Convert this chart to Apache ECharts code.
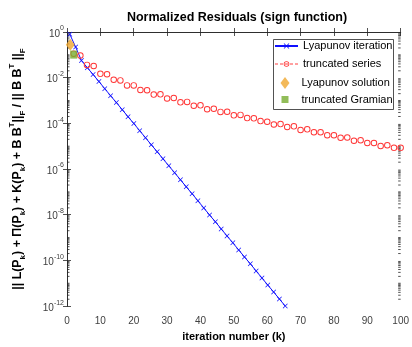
<!DOCTYPE html>
<html>
<head>
<meta charset="utf-8">
<script src="https://cdn.jsdelivr.net/npm/echarts@6/dist/echarts.min.js"></script>
<style>
html,body{margin:0;padding:0;background:#fff;}
#chart{width:412px;height:347px;}
</style>
</head>
<body>
<div id="chart"></div>
<script>
// ---- data (y values are log10 of the normalized residual) ----
const lyapIterK = [0.84, 2.59, 4.33, 6.08, 7.82, 9.57, 11.31, 13.06, 14.80, 16.55, 18.29, 20.04, 21.78, 23.53, 25.27, 27.02, 28.76, 30.51, 32.25, 34.00, 35.74, 37.49, 39.23, 40.98, 42.72, 44.47, 46.21, 47.96, 49.70, 51.45, 53.19, 54.94, 56.68, 58.43, 60.17, 61.92, 63.66, 65.41];
const lyapIterLog = [-0.10, -0.66, -1.25, -1.56, -1.86, -2.17, -2.48, -2.79, -3.09, -3.40, -3.71, -4.01, -4.32, -4.63, -4.94, -5.24, -5.55, -5.86, -6.16, -6.47, -6.78, -7.08, -7.39, -7.70, -8.01, -8.31, -8.62, -8.93, -9.23, -9.54, -9.85, -10.15, -10.46, -10.77, -11.08, -11.38, -11.69, -12.00];

const truncK = [2, 4, 6, 8, 10, 12, 14, 16, 18, 20, 22, 24, 26, 28, 30, 32, 34, 36, 38, 40, 42, 44, 46, 48, 50, 52, 54, 56, 58, 60, 62, 64, 66, 68, 70, 72, 74, 76, 78, 80, 82, 84, 86, 88, 90, 92, 94, 96, 98, 100];
const truncLog = [-0.95, -1.03, -1.44, -1.49, -1.83, -1.85, -2.09, -2.12, -2.34, -2.34, -2.54, -2.55, -2.74, -2.73, -2.91, -2.89, -3.08, -3.06, -3.23, -3.21, -3.38, -3.36, -3.50, -3.49, -3.65, -3.63, -3.77, -3.78, -3.90, -3.93, -4.05, -4.03, -4.16, -4.13, -4.29, -4.26, -4.39, -4.39, -4.52, -4.52, -4.63, -4.62, -4.76, -4.74, -4.86, -4.86, -4.99, -4.96, -5.07, -5.07];

const lyapSolK = [1];
const lyapSolLog = [-0.56];
const gramK = [2];
const gramLog = [-0.99];

const xTicks = [0, 10, 20, 30, 40, 50, 60, 70, 80, 90, 100];
const yTickExps = [0, -2, -4, -6, -8, -10, -12];

const seriesNames = ['Lyapunov iteration', 'truncated series', 'Lyapunov solution', 'truncated Gramian'];
const titleText = 'Normalized Residuals (sign function)';
const xLabel = 'iteration number (k)';

// ---- build ----
const zip = (a, b) => a.map((v, i) => [v, b[i]]);
const AX = '#262626';
const FONT = 'Liberation Sans, Arial, sans-serif';

// minor log ticks (axis decoration)
const minorTicks = [];
for (let e = -12; e < 0; e++) {
  for (let m = 1; m <= 9; m++) {
    if (m === 1 && yTickExps.indexOf(e) >= 0) continue;
    minorTicks.push([0, e + Math.log10(m)]);
  }
}

const xMarker = 'path://M0,1L1,0L5,4L9,0L10,1L6,5L10,9L9,10L5,6L1,10L0,9L4,5Z';
const ringMarker = 'path://M0,3A3,3 0 1,0 6,3A3,3 0 1,0 0,3Z M0.85,3A2.15,2.15 0 1,1 5.15,3A2.15,2.15 0 1,1 0.85,3Z';
const diamondPath = 'path://M4.5,0L9,6L4.5,12L0,6Z';
const squareIcon = 'path://M0,0L0.01,0L0.01,0.01ZM12,12L11.99,12L11.99,11.99ZM2.5,2.5L9.5,2.5L9.5,9.5L2.5,9.5Z';

const legendText = {fontFamily: FONT, fontSize: 11, color: '#000'};

const chart = echarts.init(document.getElementById('chart'), null, {renderer: 'canvas'});
chart.setOption({
  animation: false,
  backgroundColor: '#fff',
  title: {
    text: titleText, left: 232, top: 6, textAlign: 'center',
    textStyle: {fontFamily: FONT, fontSize: 12.5, fontWeight: 'bold', color: '#000'}
  },
  grid: {left: 62, right: 10, top: 32, bottom: 34},
  graphic: [{
    type: 'rect', z: 55, silent: true,
    shape: {x: 273.5, y: 39.5, width: 120, height: 70},
    style: {fill: '#fff', stroke: AX, lineWidth: 0.8}
  }],
  legend: [{
    orient: 'vertical', left: 274, top: 40.5, z: 60,
    itemWidth: 23, itemHeight: 7, itemGap: 7, padding: 0,
    textStyle: legendText,
    data: [
      {name: seriesNames[0]},
      {name: seriesNames[1], lineStyle: {opacity: 1, type: [3, 2], width: 1, color: '#ff4040'}}
    ]
  }, {
    orient: 'vertical', left: 279, top: 77, z: 60,
    itemWidth: 23, itemHeight: 12, itemGap: 4.5, padding: 0,
    textStyle: legendText,
    data: [
      {name: seriesNames[2], icon: diamondPath},
      {name: seriesNames[3], icon: squareIcon}
    ]
  }],
  xAxis: [{
    type: 'value', min: 0, max: 100, interval: 10, position: 'bottom',
    name: xLabel, nameLocation: 'middle', nameGap: 23,
    nameTextStyle: {fontFamily: FONT, fontSize: 11, fontWeight: 'bold', color: '#000'},
    axisLine: {show: true, lineStyle: {color: AX, width: 0.8}},
    axisTick: {show: true, inside: true, length: 4, lineStyle: {color: AX, width: 0.8}},
    axisLabel: {show: true, margin: 10, fontFamily: FONT, fontSize: 10, color: '#404040'},
    splitLine: {show: false}
  }, {
    type: 'value', min: 0, max: 100, interval: 10, position: 'top',
    axisLine: {show: true, lineStyle: {color: AX, width: 0.8}},
    axisTick: {show: true, inside: true, length: 4, lineStyle: {color: AX, width: 0.8}},
    axisLabel: {show: false}, splitLine: {show: false}
  }],
  yAxis: [{
    type: 'value', min: -12, max: 0, interval: 2, position: 'left',
    name: '{n||| L(P}{sb|k}{n|) + Π(P}{sb|k}{n|) + K(P}{sb|k}{n|) + B B}{sp|T}{n|||}{sb|F}{n| / || B B}{sp|T}{n| ||}{sb|F}',
    nameLocation: 'middle', nameRotate: 90, nameGap: 40,
    nameTextStyle: {
      rich: {
        n: {fontFamily: FONT, fontSize: 12.4, fontWeight: 'bold', color: '#000', lineHeight: 19, verticalAlign: 'middle'},
        sb: {fontFamily: FONT, fontSize: 8, fontWeight: 'bold', color: '#000', lineHeight: 19, verticalAlign: 'bottom'},
        sp: {fontFamily: FONT, fontSize: 8, fontWeight: 'bold', color: '#000', lineHeight: 19, verticalAlign: 'top'}
      }
    },
    axisLine: {show: true, lineStyle: {color: AX, width: 0.8}},
    axisTick: {show: true, inside: true, length: 4, lineStyle: {color: AX, width: 0.8}},
    axisLabel: {
      show: true, margin: 3,
      formatter: v => '{b|10}{s|' + v + '}',
      rich: {
        b: {fontFamily: FONT, fontSize: 10, color: '#404040', lineHeight: 14, verticalAlign: 'bottom'},
        s: {fontFamily: FONT, fontSize: 7, color: '#404040', lineHeight: 14, verticalAlign: 'top'}
      }
    },
    splitLine: {show: false}
  }, {
    type: 'value', min: -12, max: 0, interval: 2, position: 'right',
    axisLine: {show: true, lineStyle: {color: AX, width: 0.8}},
    axisTick: {show: true, inside: true, length: 4, lineStyle: {color: AX, width: 0.8}},
    axisLabel: {show: false}, splitLine: {show: false}
  }],
  series: [
    {
      name: seriesNames[0], type: 'line', data: zip(lyapIterK, lyapIterLog),
      color: '#1010ff',
      lineStyle: {width: 1, color: '#1010ff'},
      symbol: xMarker, symbolSize: 5,
      itemStyle: {color: '#1010ff'},
      clip: true, z: 2
    },
    {
      name: seriesNames[1], type: 'line', data: zip(truncK, truncLog),
      color: '#ff3535',
      lineStyle: {width: 1, type: [3, 2], color: '#ff4040', opacity: 0},
      symbol: ringMarker, symbolSize: 6.5, showAllSymbol: true,
      itemStyle: {color: '#ff3535', borderWidth: 0},
      clip: false, z: 3
    },
    {
      name: seriesNames[2], type: 'scatter', data: zip(lyapSolK, lyapSolLog),
      symbol: 'diamond', symbolSize: [9, 12],
      itemStyle: {color: '#f0a830'}, z: 4
    },
    {
      name: seriesNames[3], type: 'scatter', data: zip(gramK, gramLog),
      symbol: 'rect', symbolSize: [7, 8],
      itemStyle: {color: '#77ac30'}, z: 5
    },
    {
      name: 'minorTicks', type: 'custom', data: minorTicks, silent: true, z: 1,
      encode: {x: 0, y: 1},
      renderItem: function (params, api) {
        const v = api.value(1);
        const p0 = api.coord([0, v]);
        const p1 = api.coord([100, v]);
        const L = 2.5;
        const st = {stroke: AX, lineWidth: 0.8};
        return {type: 'group', children: [
          {type: 'line', shape: {x1: p0[0], y1: p0[1], x2: p0[0] + L, y2: p0[1]}, style: st},
          {type: 'line', shape: {x1: p1[0], y1: p1[1], x2: p1[0] - L, y2: p1[1]}, style: st}
        ]};
      }
    }
  ]
});
</script>
</body>
</html>
